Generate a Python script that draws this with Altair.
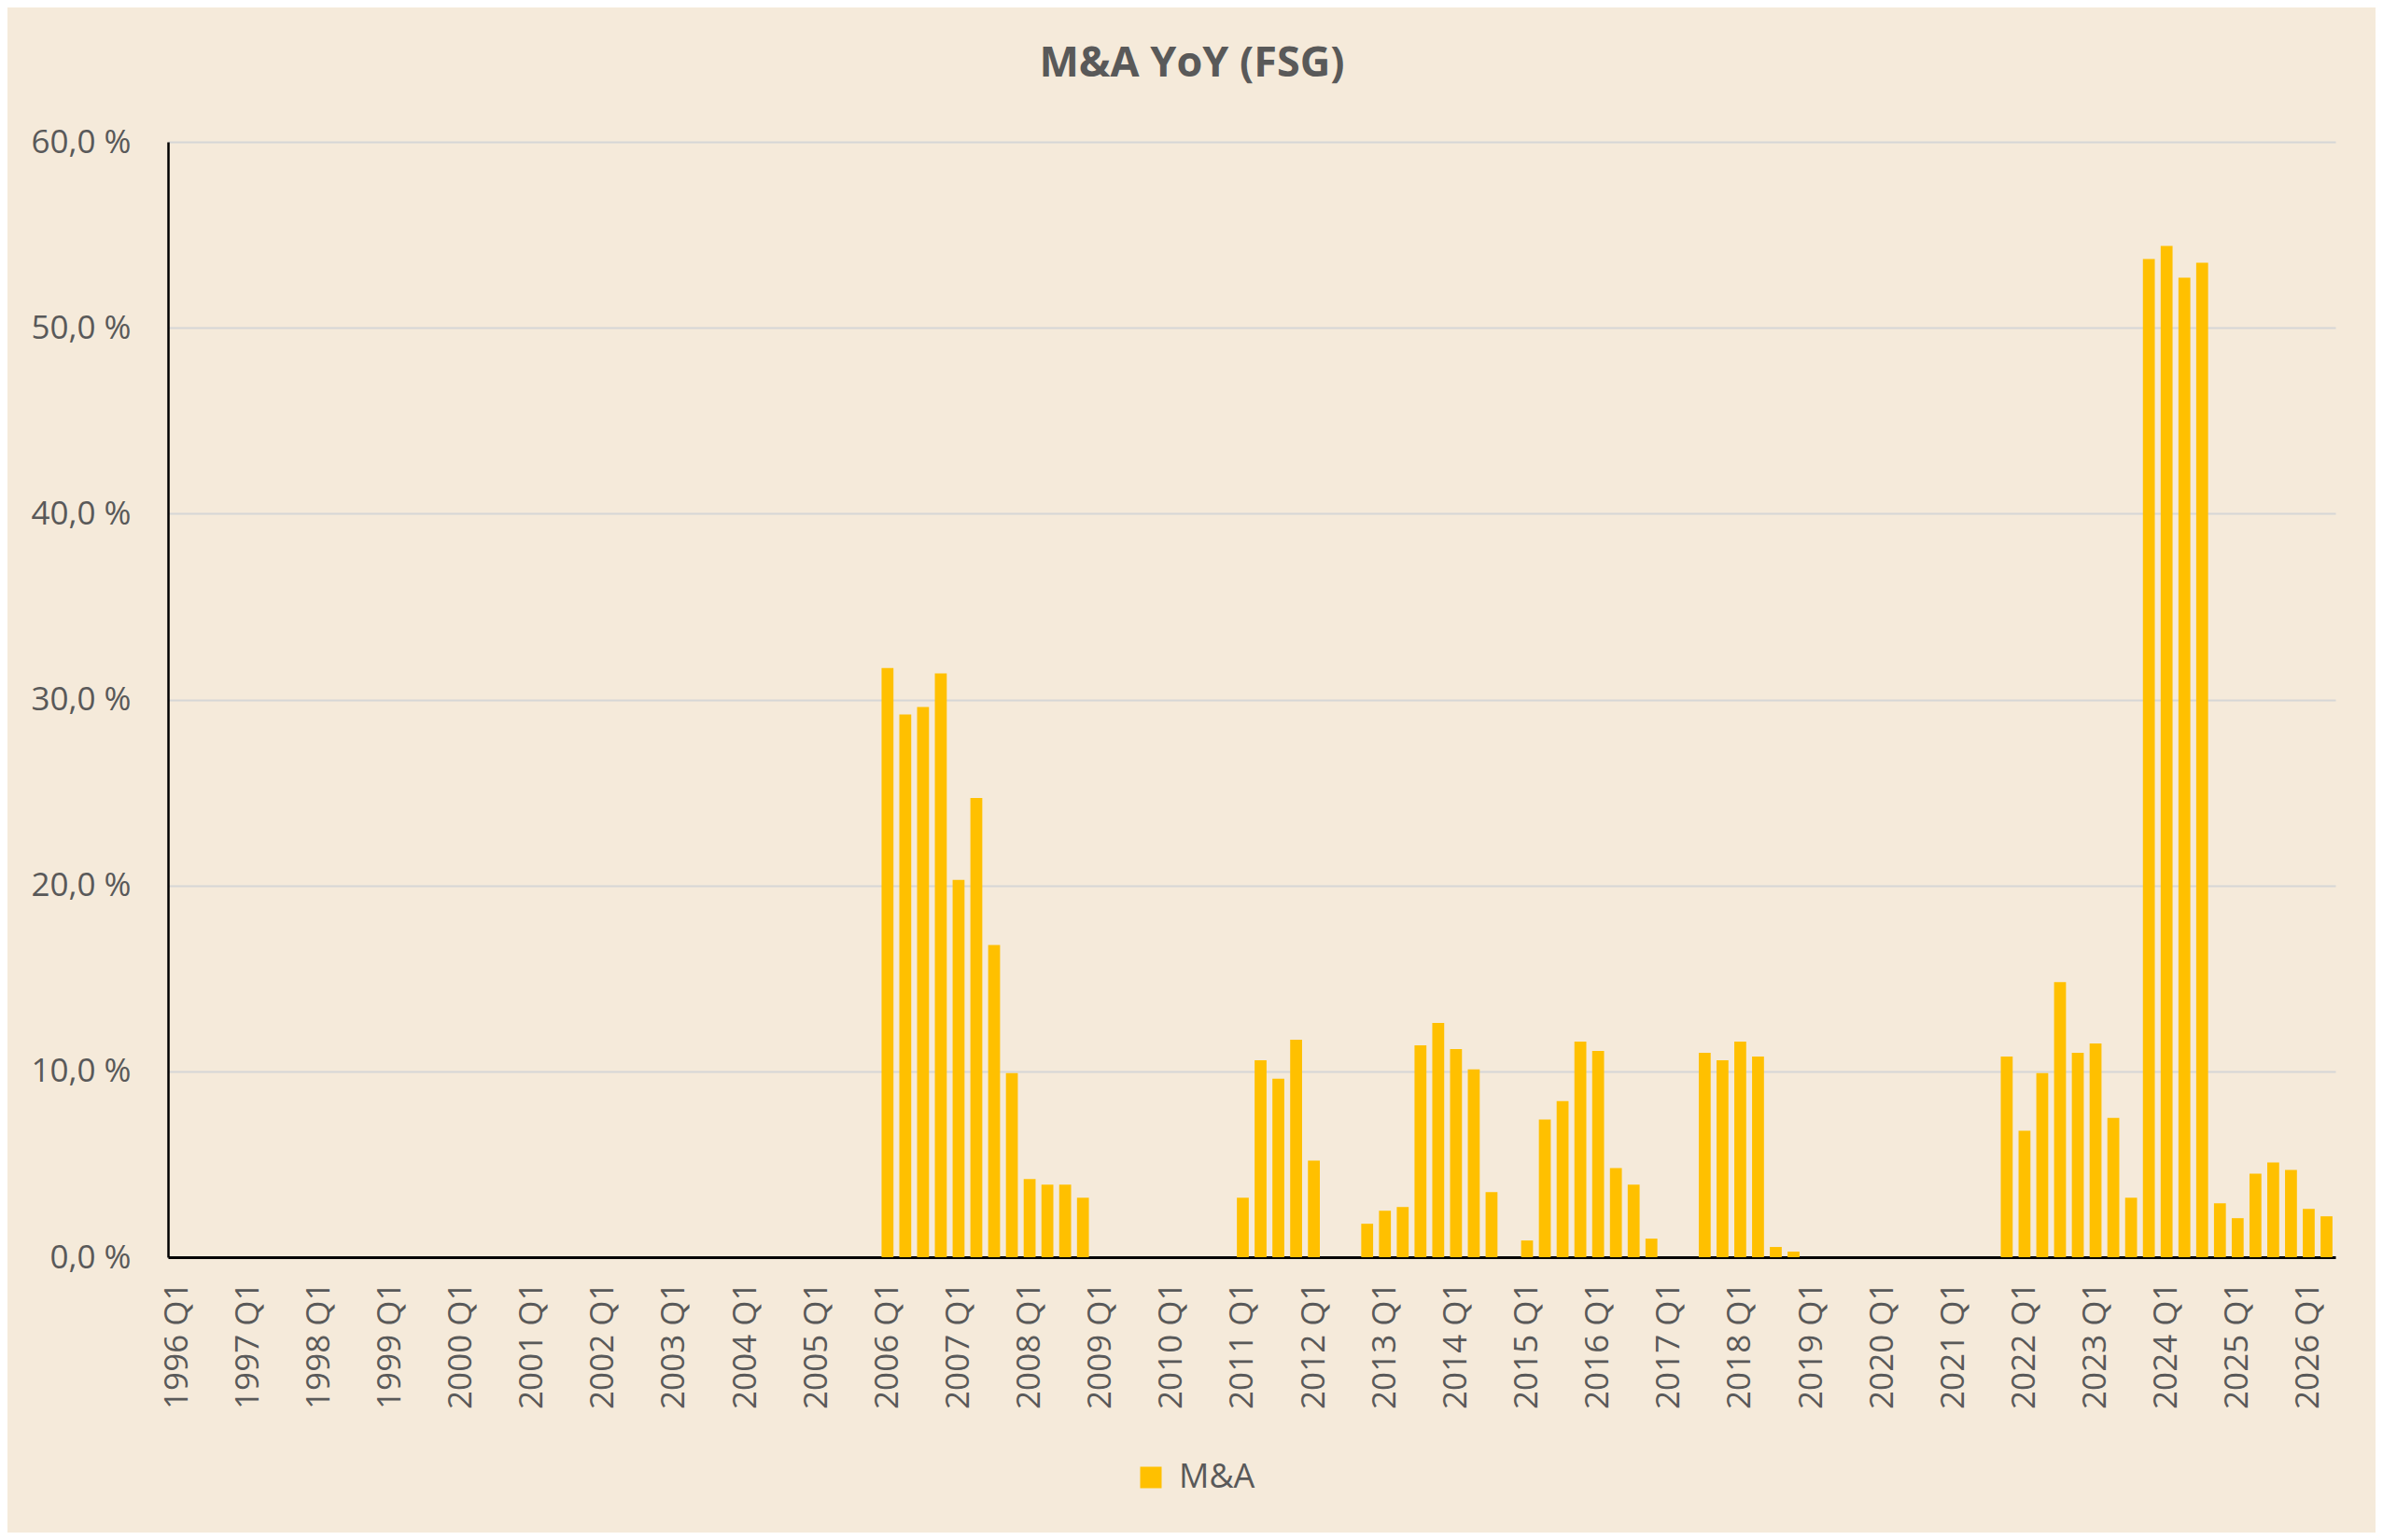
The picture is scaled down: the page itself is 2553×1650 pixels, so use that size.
import altair as alt
import pandas as pd

# Quarterly categories 1996 Q1 .. 2026 Q2
years = list(range(1996, 2027))
quarter_names = ["Q1", "Q2", "Q3", "Q4"]
quarters = [f"{y} {q}" for y in years for q in quarter_names][:122]
q1_labels = [f"{y} Q1" for y in years]

# M&A YoY values in percent
ma_yoy = (
    [0.0] * 40  # 1996-2005
    + [31.7, 29.2, 29.6, 31.4]  # 2006
    + [20.3, 24.7, 16.8, 9.9]   # 2007
    + [4.2, 3.9, 3.9, 3.2]      # 2008
    + [0.0, 0.0, 0.0, 0.0]      # 2009
    + [0.0, 0.0, 0.0, 0.0]      # 2010
    + [3.2, 10.6, 9.6, 11.7]    # 2011
    + [5.2, 0.0, 0.0, 1.8]      # 2012
    + [2.5, 2.7, 11.4, 12.6]    # 2013
    + [11.2, 10.1, 3.5, 0.0]    # 2014
    + [0.9, 7.4, 8.4, 11.6]     # 2015
    + [11.1, 4.8, 3.9, 1.0]     # 2016
    + [0.0, 0.0, 11.0, 10.6]    # 2017
    + [11.6, 10.8, 0.55, 0.3]   # 2018
    + [0.0, 0.0, 0.0, 0.0]      # 2019
    + [0.0, 0.0, 0.0, 0.0]      # 2020
    + [0.0, 0.0, 0.0, 10.8]     # 2021
    + [6.8, 9.9, 14.8, 11.0]    # 2022
    + [11.5, 7.5, 3.2, 53.7]    # 2023
    + [54.4, 52.7, 53.5, 2.9]   # 2024
    + [2.1, 4.5, 5.1, 4.7]      # 2025
    + [2.6, 2.2]                # 2026
)
series_name = "M&A"
y_ticks = [0, 10, 20, 30, 40, 50, 60]

df = pd.DataFrame({"quarter": quarters, "value": ma_yoy, "series": series_name})

FONT = "Open Sans"
TEXT = "#595959"
BG = "#F5EADA"
BAR = "#FFC000"

chart = (
    alt.Chart(df)
    .mark_bar()
    .encode(
        x=alt.X(
            "quarter:N",
            sort=quarters,
            scale=alt.Scale(paddingInner=0.33, paddingOuter=0.165),
            axis=alt.Axis(
                title=None,
                values=q1_labels,
                labelAngle=270,
                labelFontSize=35,
                labelFont=FONT,
                labelColor=TEXT,
                labelPadding=26,
                ticks=False,
                domainColor="#000000",
                domainWidth=3,
                grid=False,
                labelOverlap=False,
            ),
        ),
        y=alt.Y(
            "value:Q",
            scale=alt.Scale(domain=[0, 60], nice=False),
            axis=alt.Axis(
                title=None,
                values=y_ticks,
                labelExpr="replace(format(datum.value, '.1f'), '.', ',') + ' %'",
                labelFontSize=35,
                labelFont=FONT,
                labelColor=TEXT,
                labelPadding=40,
                ticks=False,
                domainColor="#000000",
                domainWidth=2.5,
                grid=True,
                gridColor="#D6D6D6",
                gridWidth=2,
            ),
        ),
        color=alt.Color(
            "series:N",
            scale=alt.Scale(domain=[series_name], range=[BAR]),
            legend=alt.Legend(
                title=None,
                orient="none",
                legendX=1035,
                legendY=1413,
                padding=0,
                symbolType="square",
                symbolSize=529,
                symbolStrokeWidth=0,
                labelFontSize=36,
                labelFont=FONT,
                labelColor=TEXT,
                labelOffset=12,
            ),
        ),
    )
    .properties(
        width=2322,
        height=1195,
        autosize=alt.AutoSizeParams(type="none"),
        padding={"left": 172, "top": 144, "right": 43, "bottom": 295},
        background=BG,
        title=alt.TitleParams(
            text="M&A YoY (FSG)",
            font=FONT,
            fontSize=45,
            fontWeight="bold",
            color=TEXT,
            anchor="middle",
            baseline="alphabetic",
            offset=8,
            dx=-64,
        ),
    )
    .configure_view(stroke=None)
)

chart.save("out.html", embed_options={"renderer": "svg", "actions": False})
